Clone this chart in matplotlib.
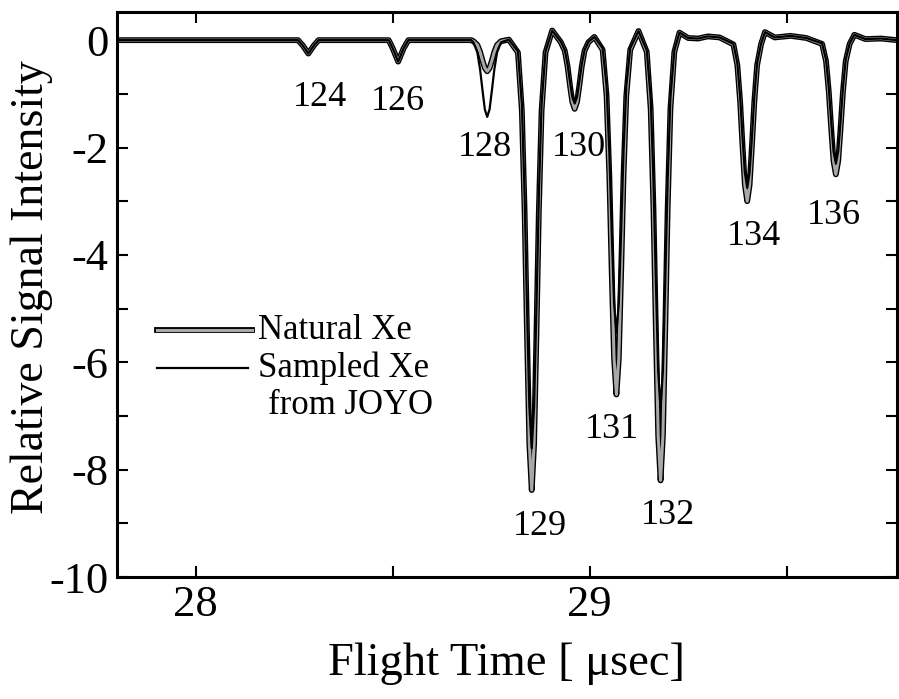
import matplotlib
matplotlib.use("Agg")
import matplotlib.pyplot as plt
import matplotlib.patheffects as pe
from matplotlib.ticker import MultipleLocator

plt.rcParams['font.family'] = ['Liberation Serif', 'DejaVu Serif']
plt.rcParams['axes.unicode_minus'] = False

# flight time points (usec), shared by both traces
flight_time = [
    27.80, 28.00, 28.26,
    28.272, 28.286, 28.300, 28.312,
    28.49,
    28.500, 28.514, 28.528, 28.540,
    28.70,
    28.705, 28.715, 28.722, 28.728, 28.734, 28.740, 28.746, 28.752, 28.758, 28.765, 28.775,
    28.795,
    28.818, 28.828, 28.835, 28.841, 28.847, 28.853, 28.859, 28.865, 28.871, 28.878, 28.888,
    28.905,
    28.927, 28.937, 28.944, 28.950, 28.956, 28.962, 28.968, 28.974, 28.980, 28.987, 28.997,
    29.012,
    29.033, 29.043, 29.050, 29.056, 29.062, 29.068, 29.074, 29.080, 29.086, 29.093, 29.103,
    29.124,
    29.145, 29.155, 29.162, 29.168, 29.174, 29.180, 29.186, 29.192, 29.198, 29.205, 29.215,
    29.228, 29.250, 29.275, 29.300, 29.330,
    29.365, 29.375, 29.382, 29.388, 29.394, 29.400, 29.406, 29.412, 29.418, 29.425, 29.435,
    29.445, 29.470, 29.510, 29.550,
    29.590, 29.600, 29.607, 29.613, 29.619, 29.625, 29.631, 29.637, 29.643, 29.650, 29.660,
    29.672, 29.700, 29.740, 29.780,
]

natural_xe = [
    0.0, 0.0, 0.0,
    -0.10, -0.25, -0.10, 0.0,
    0.0,
    -0.15, -0.40, -0.15, 0.0,
    0.0,
    -0.02, -0.09, -0.22, -0.38, -0.52, -0.58, -0.52, -0.38, -0.22, -0.09, -0.02,
    0.01,
    -0.23, -1.32, -3.21, -5.47, -7.53, -8.38, -7.53, -5.47, -3.21, -1.32, -0.23,
    0.18,
    -0.04, -0.20, -0.49, -0.84, -1.15, -1.28, -1.15, -0.84, -0.49, -0.20, -0.04,
    0.06,
    -0.18, -1.04, -2.53, -4.31, -5.93, -6.60, -5.93, -4.31, -2.53, -1.04, -0.18,
    0.17,
    -0.22, -1.29, -3.14, -5.36, -7.37, -8.20, -7.37, -5.36, -3.14, -1.29, -0.22,
    0.14, 0.04, 0.03, 0.07, 0.05,
    -0.08, -0.47, -1.15, -1.96, -2.70, -3.00, -2.70, -1.96, -1.15, -0.47, -0.08,
    0.15, 0.05, 0.08, 0.04,
    -0.07, -0.39, -0.96, -1.63, -2.25, -2.50, -2.25, -1.63, -0.96, -0.39, -0.07,
    0.10, 0.02, 0.03, 0.0,
]

sampled_xe = [
    0.0, 0.0, 0.0,
    -0.10, -0.25, -0.10, 0.0,
    0.0,
    -0.15, -0.40, -0.15, 0.0,
    0.0,
    -0.04, -0.23, -0.55, -0.93, -1.29, -1.43, -1.29, -0.93, -0.55, -0.23, -0.04,
    0.01,
    -0.21, -1.19, -2.91, -4.96, -6.83, -7.60, -6.83, -4.96, -2.91, -1.19, -0.21,
    0.18,
    -0.03, -0.19, -0.45, -0.77, -1.06, -1.18, -1.06, -0.77, -0.45, -0.19, -0.03,
    0.06,
    -0.15, -0.86, -2.09, -3.56, -4.90, -5.45, -4.90, -3.56, -2.09, -0.86, -0.15,
    0.17,
    -0.19, -1.08, -2.62, -4.47, -6.16, -6.85, -6.16, -4.47, -2.62, -1.08, -0.19,
    0.14, 0.04, 0.03, 0.07, 0.05,
    -0.07, -0.43, -1.05, -1.80, -2.47, -2.75, -2.47, -1.80, -1.05, -0.43, -0.07,
    0.15, 0.05, 0.08, 0.04,
    -0.06, -0.36, -0.88, -1.50, -2.07, -2.30, -2.07, -1.50, -0.88, -0.36, -0.06,
    0.10, 0.02, 0.03, 0.0,
]

# isotope labels and where they sit
isotopes = ['124', '126', '128', '130', '129', '131', '132', '134', '136']
label_x = [28.316, 28.514, 28.733, 28.972, 28.873, 29.056, 29.200, 29.418, 29.620]
label_y = [-1.06, -1.15, -2.00, -2.00, -9.05, -7.26, -8.85, -3.65, -3.26]

fig = plt.figure(figsize=(8.99, 6.99), dpi=100)
ax = fig.add_axes([0.130, 0.1745, 0.8677, 0.808])

ax.plot(flight_time, natural_xe, color='#a8a8a8', lw=2.2, zorder=2,
        path_effects=[pe.Stroke(linewidth=4.2, foreground='black'), pe.Normal()])
ax.plot(flight_time, sampled_xe, color='black', lw=1.6, zorder=3)

for lab, lx, ly in zip(isotopes, label_x, label_y):
    ax.text(lx, ly, lab, fontsize=26, ha='center', va='center')

# legend drawn by hand
ax.plot([0.051, 0.173], [0.437, 0.437], transform=ax.transAxes, color='#a8a8a8', lw=2.2,
        path_effects=[pe.Stroke(linewidth=4.2, foreground='black'), pe.Normal()])
ax.plot([0.051, 0.168], [0.370, 0.370], transform=ax.transAxes, color='black', lw=1.6)
ax.text(0.181, 0.437, 'Natural Xe', transform=ax.transAxes, fontsize=25, va='center')
ax.text(0.181, 0.370, 'Sampled Xe', transform=ax.transAxes, fontsize=25, va='center')
ax.text(0.194, 0.303, 'from JOYO', transform=ax.transAxes, fontsize=25, va='center')

ax.set_xlim(27.80, 29.78)
ax.set_ylim(-10, 0.52)
ax.xaxis.set_major_locator(MultipleLocator(1))
ax.xaxis.set_minor_locator(MultipleLocator(0.5))
ax.yaxis.set_major_locator(MultipleLocator(2))
ax.yaxis.set_minor_locator(MultipleLocator(1))
ax.tick_params(which='both', direction='in', top=True, right=True, width=1.5)
ax.tick_params(which='major', length=8, labelsize=32, pad=6)
ax.tick_params(which='minor', length=8)
for s in ax.spines.values():
    s.set_linewidth(2.2)

ax.set_xlabel('Flight Time [ μsec]', fontsize=33.5, labelpad=12)
ax.set_ylabel('Relative Signal Intensity', fontsize=33)
ax.yaxis.set_label_coords(-0.082, 0.513)

fig.savefig('out.png', dpi=100)
